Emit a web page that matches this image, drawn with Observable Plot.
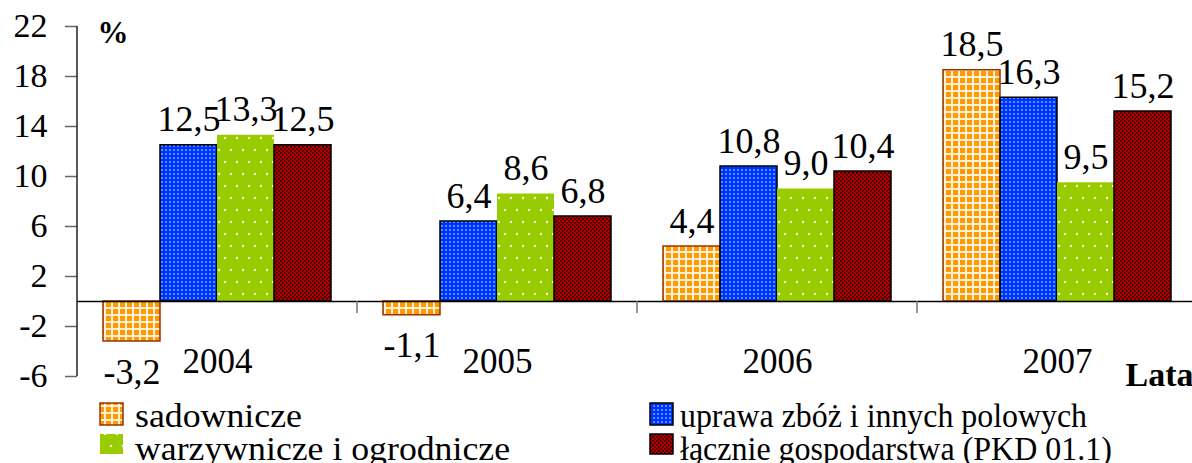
<!DOCTYPE html>
<html><head><meta charset="utf-8">
<script src="https://cdn.jsdelivr.net/npm/d3@7"></script>
<script src="https://cdn.jsdelivr.net/npm/@observablehq/plot@0.6"></script>
<style>
body{margin:0;background:#fff}
#wrap{width:1192px;height:463px;overflow:hidden;position:relative;background:#fff}
#wrap svg{display:block}
#wrap svg text{font-family:'Liberation Serif','Times New Roman',serif;font-variant:normal}
</style>
</head><body><div id="wrap"></div>
<script>
// ---- data ----
const years = ["2004", "2005", "2006", "2007"];
const seriesNames = ["sadownicze", "uprawa zbóż i innych polowych", "warzywnicze i ogrodnicze", "łącznie gospodarstwa (PKD 01.1)"];
const sadownicze = [-3.2, -1.1, 4.4, 18.5];
const uprawa = [12.5, 6.4, 10.8, 16.3];
const warzywnicze = [13.3, 8.6, 9.0, 9.5];
const lacznie = [12.5, 6.8, 10.4, 15.2];
const yTicks = [-6, -2, 2, 6, 10, 14, 18, 22];
const yLabel = "%";
const xLabel = "Lata";

const valuesBySeries = [sadownicze, uprawa, warzywnicze, lacznie];
const rows = [];
years.forEach((yr, i) => seriesNames.forEach((s, j) => rows.push({year: yr, series: s, value: valuesBySeries[j][i]})));

const patIds = ["pOr", "pBl", "pGr", "pRd"];
const strokes = ["#993300", "#000", "none", "#000"];
const font = "Liberation Serif";
const fmt = v => v.toFixed(1).replace(".", ",");

const barMarks = seriesNames.map((s, j) =>
  Plot.barY(rows.filter(d => d.series === s), {
    fx: "year", x: "series", y: "value",
    fill: `url(#${patIds[j]})`, stroke: strokes[j], strokeWidth: 1.5
  })
);

const chart = Plot.plot({
  width: 1197, height: 392,
  marginTop: 26, marginBottom: 16, marginLeft: 77, marginRight: 0,
  style: {fontFamily: font, fontSize: "34px", background: "white", maxWidth: "none", overflow: "visible", color: "black"},
  fx: {domain: years, padding: 0, axis: null},
  x: {domain: seriesNames, paddingInner: 0, paddingOuter: 0.435, axis: null},
  y: {domain: [-6, 22], axis: null},
  marks: [
    Plot.axisY({ticks: yTicks, label: null, tickSize: 12, tickPadding: 18, tickFormat: d => String(d), fontSize: 34, fontFamily: font, stroke: "#666", strokeWidth: 1.5}),
    ...barMarks,
    Plot.ruleY([0], {stroke: "black", strokeWidth: 1.5}),
    Plot.text(rows.filter(d => d.value >= 0), {fx: "year", x: "series", y: "value", text: d => fmt(d.value), lineAnchor: "bottom", dy: -14, fontSize: 36, fontFamily: font}),
    Plot.text(rows.filter(d => d.value < 0), {fx: "year", x: "series", y: "value", text: d => fmt(d.value), lineAnchor: "bottom", dy: 42, fontSize: 36, fontFamily: font}),
    Plot.text(years, {fx: d => d, text: d => d, frameAnchor: "bottom", lineAnchor: "bottom", dy: -4, fontSize: 35, fontFamily: font}),
    Plot.text([yLabel], {fx: () => years[0], text: d => d, frameAnchor: "top-left", textAnchor: "start", lineAnchor: "top", dx: 20, dy: -6, fontWeight: "bold", fontSize: 31, fontFamily: font}),
    Plot.text([xLabel], {fx: () => years[years.length - 1], text: d => d, frameAnchor: "bottom-right", textAnchor: "end", lineAnchor: "bottom", dx: -4, dy: 9, fontWeight: "bold", fontSize: 34, fontFamily: font})
  ]
});

// patterns
const svg = d3.select(chart);
const defs = svg.insert("defs", ":first-child");
{
  const p = defs.append("pattern").attr("id", "pOr").attr("patternUnits", "userSpaceOnUse").attr("width", 7).attr("height", 7);
  p.append("rect").attr("width", 7).attr("height", 7).attr("fill", "#FFEFD6");
  p.append("rect").attr("x", 1).attr("y", 1).attr("width", 5).attr("height", 5).attr("fill", "#FF9900");
}
{
  const p = defs.append("pattern").attr("id", "pBl").attr("patternUnits", "userSpaceOnUse").attr("width", 4).attr("height", 4);
  p.append("rect").attr("width", 4).attr("height", 4).attr("fill", "#0030FF");
  p.append("rect").attr("x", 1).attr("y", 1).attr("width", 2).attr("height", 2).attr("fill", "#3D9BFF");
}
{
  const p = defs.append("pattern").attr("id", "pGr").attr("patternUnits", "userSpaceOnUse").attr("width", 12).attr("height", 24);
  p.append("rect").attr("width", 12).attr("height", 24).attr("fill", "#99CC00");
  p.append("circle").attr("cx", 3).attr("cy", 6).attr("r", 1.2).attr("fill", "#F4FBE0");
  p.append("circle").attr("cx", 9).attr("cy", 18).attr("r", 1.2).attr("fill", "#F4FBE0");
}
{
  const p = defs.append("pattern").attr("id", "pRd").attr("patternUnits", "userSpaceOnUse").attr("width", 4).attr("height", 4);
  p.append("rect").attr("width", 4).attr("height", 4).attr("fill", "#B00000");
  p.append("rect").attr("x", 0).attr("y", 0).attr("width", 1.6).attr("height", 1.6).attr("fill", "#200000");
  p.append("rect").attr("x", 2).attr("y", 2).attr("width", 1.6).attr("height", 1.6).attr("fill", "#200000");
}

// axis line and category separators using the plot's own scales
const ySc = chart.scale("y");
const fxSc = chart.scale("fx");
const x0 = fxSc.apply(years[0]);
svg.append("line").attr("x1", x0).attr("x2", x0).attr("y1", ySc.apply(22)).attr("y2", ySc.apply(-6)).attr("stroke", "#222").attr("stroke-width", 1.5);
years.slice(1).forEach(yr => {
  const xx = fxSc.apply(yr);
  svg.append("line").attr("x1", xx).attr("x2", xx).attr("y1", ySc.apply(0)).attr("y2", ySc.apply(0) + 12).attr("stroke", "#777").attr("stroke-width", 1.5);
});

document.getElementById("wrap").appendChild(chart);

// legend
const lg = d3.create("svg").attr("width", 1192).attr("height", 71).style("font-family", font).style("display", "block");
const legendLayout = [
  {x: 100, y: 11, h: 22, tl: 167},
  {x: 650, y: 11, h: 22, tl: 407},
  {x: 100, y: 42, h: 20, tl: 375},
  {x: 650, y: 42, h: 20, tl: 432}
];
seriesNames.forEach((s, j) => {
  const L = legendLayout[j];
  lg.append("rect").attr("x", L.x).attr("y", L.y).attr("width", 23).attr("height", L.h)
    .attr("fill", `url(#${patIds[j]})`).attr("stroke", strokes[j]).attr("stroke-width", 1.5);
  lg.append("text").attr("x", L.x + 35 - (j % 2 ? 5 : 0)).attr("y", L.y + 24 - (L.h === 20 ? -2 : 0))
    .attr("font-size", 34).attr("textLength", L.tl).attr("lengthAdjust", "spacingAndGlyphs").text(s);
});
document.getElementById("wrap").appendChild(lg.node());
</script>
</body></html>
